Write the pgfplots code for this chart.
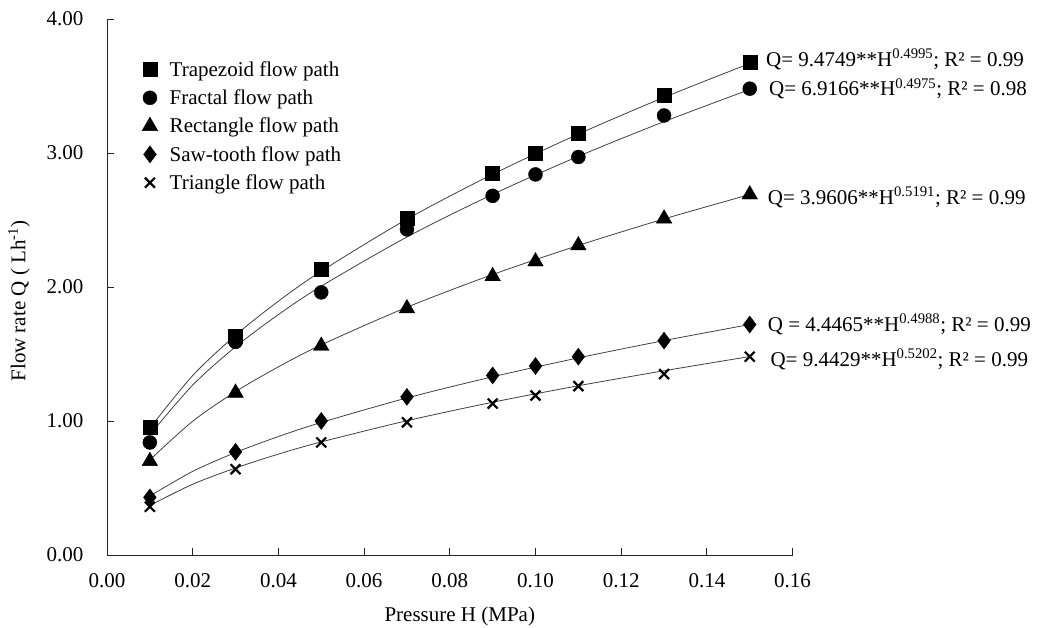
\documentclass[border=0pt]{standalone}
\usepackage{fontspec}
\setmainfont{Liberation Serif}
\usepackage{pgfplots}
\pgfplotsset{compat=1.18}
\newcommand{\bigf}{\fontsize{21}{25}\selectfont}
\begin{document}
\begin{tikzpicture}[font=\bigf]
\pgfplotstableread{
x trap frac rect saw tri
0.01 0.95 0.84 0.70 0.43 0.36
0.03 1.63 1.59 1.21 0.77 0.64
0.05 2.13 1.96 1.56 1.00 0.84
0.07 2.51 2.43 1.84 1.18 0.99
0.09 2.85 2.68 2.08 1.34 1.13
0.10 3.00 2.84 2.19 1.41 1.19
0.11 3.15 2.97 2.31 1.48 1.26
0.13 3.43 3.28 2.51 1.60 1.35
0.15 3.68 3.48 2.69 1.72 1.48
}\data
\pgfplotstableread{
x trap frac rect saw tri
0.01 0.947 0.897 0.710 0.440 0.370
0.02 1.339 1.268 0.998 0.624 0.528
0.03 1.640 1.554 1.219 0.765 0.649
0.04 1.894 1.794 1.404 0.884 0.753
0.05 2.118 2.006 1.568 0.989 0.844
0.07 2.506 2.373 1.849 1.172 1.002
0.09 2.841 2.691 2.093 1.330 1.140
0.11 3.141 2.975 2.310 1.471 1.263
0.13 3.415 3.234 2.508 1.600 1.375
0.15 3.668 3.474 2.690 1.720 1.481
}\trend
\begin{axis}[
  name=ax,
  scale only axis,
  width=685.6pt, height=536pt,
  xmin=0, xmax=0.16, ymin=0, ymax=4,
  axis lines=left,
  axis line style={-, black!85, line width=0.9pt},
  xtick={0,0.02,...,0.161},
  ytick={0,1,2,3,4},
  tick align=inside,
  major tick length=7pt,
  tick style={black!85, line width=0.9pt},
  /pgf/number format/assume math mode=true,
  xticklabel style={/pgf/number format/.cd, fixed, fixed zerofill, precision=2},
  yticklabel style={/pgf/number format/.cd, fixed, fixed zerofill, precision=2},
  every tick label/.append style={font=\bigf},
  every axis label/.append style={font=\bigf},
  xticklabel shift=15pt,
  yticklabel shift=20pt,
  xlabel={Pressure H (MPa)},
  ylabel={Flow rate Q ( Lh\textsuperscript{-1})},
  xlabel style={yshift=-12pt, xshift=10pt},
  ylabel style={yshift=10pt, xshift=-14pt},
  clip=false,
  legend style={at={(0.051,0.925)}, anchor=north west, draw=none, fill=none,
    font=\bigf, row sep=8pt, inner sep=0pt,
    /tikz/every odd column/.append style={column sep=10pt},
    cells={anchor=west}},
  legend cell align=left,
]
\addplot[black!75, line width=0.8pt, smooth, forget plot] table[x=x,y=trap]{\trend};
\addplot[black!75, line width=0.8pt, smooth, forget plot] table[x=x,y=frac]{\trend};
\addplot[black!75, line width=0.8pt, smooth, forget plot] table[x=x,y=rect]{\trend};
\addplot[black!75, line width=0.8pt, smooth, forget plot] table[x=x,y=saw]{\trend};
\addplot[black!75, line width=0.8pt, smooth, forget plot] table[x=x,y=tri]{\trend};
\addplot[only marks, mark=square*, mark size=7pt, black] table[x=x,y=trap]{\data};
\addlegendentry{Trapezoid flow path}
\addplot[only marks, mark=*, mark size=7pt, black] table[x=x,y=frac]{\data};
\addlegendentry{Fractal flow path}
\addplot[only marks, mark=triangle*, mark size=9pt, black] table[x=x,y=rect]{\data};
\addlegendentry{Rectangle flow path}
\addplot[only marks, mark=diamond*, mark size=8.5pt, black] table[x=x,y=saw]{\data};
\addlegendentry{Saw-tooth flow path}
\addplot[only marks, mark=x, mark size=7pt, black, line width=2.2pt] table[x=x,y=tri]{\data};
\addlegendentry{Triangle flow path}
\node[anchor=west, inner sep=0pt] at (axis cs:0.1538,3.70) {Q= 9.4749**H\textsuperscript{0.4995}; R² = 0.99};
\node[anchor=west, inner sep=0pt] at (axis cs:0.1545,3.48) {Q= 6.9166**H\textsuperscript{0.4975}; R² = 0.98};
\node[anchor=west, inner sep=0pt] at (axis cs:0.1542,2.67) {Q= 3.9606**H\textsuperscript{0.5191}; R² = 0.99};
\node[anchor=west, inner sep=0pt] at (axis cs:0.1542,1.72) {Q = 4.4465**H\textsuperscript{0.4988}; R² = 0.99};
\node[anchor=west, inner sep=0pt] at (axis cs:0.1548,1.46) {Q= 9.4429**H\textsuperscript{0.5202}; R² = 0.99};
\end{axis}
\pgfresetboundingbox
\path ([xshift=-107pt,yshift=-73pt]ax.south west) rectangle ([xshift=931pt,yshift=555pt]ax.south west);
\end{tikzpicture}
\end{document}
